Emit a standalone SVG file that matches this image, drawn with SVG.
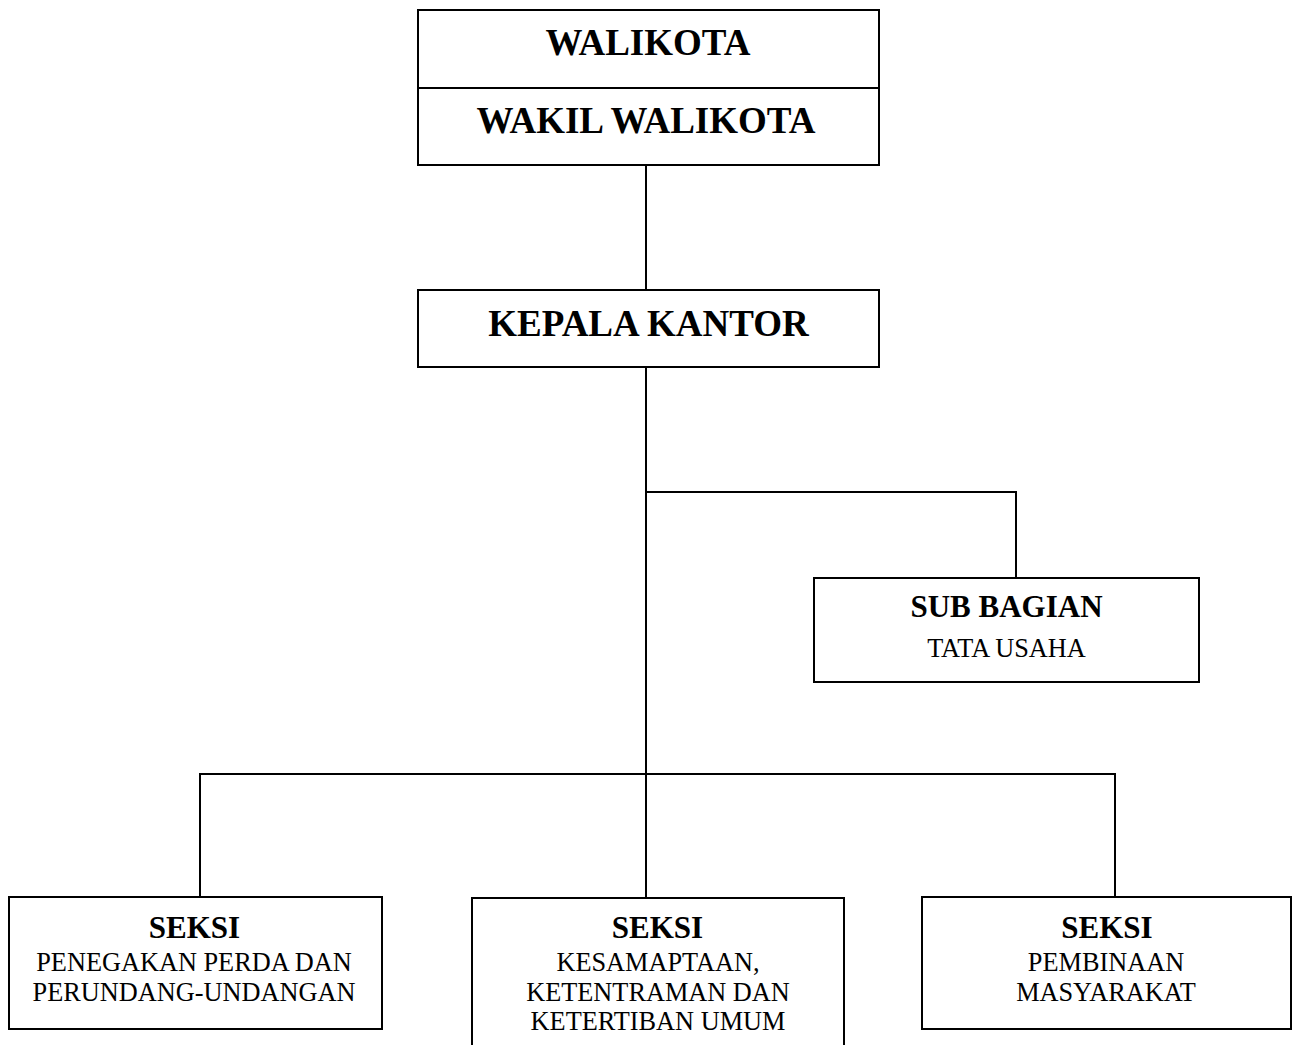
<svg xmlns="http://www.w3.org/2000/svg" width="1293" height="1045" viewBox="0 0 1293 1045">
<style>
.box{fill:#fff;stroke:#000;stroke-width:2}
.ln{fill:none;stroke:#000;stroke-width:2}
text{font-family:"Liberation Serif","Times New Roman",serif;fill:#000;text-anchor:middle}
.b37{font-size:37px;font-weight:bold}
.b31{font-size:31px;font-weight:bold}
.r26{font-size:26.3px}
</style>
<rect width="1293" height="1045" fill="#fff"/>
<g id="connectors">
<line class="ln" x1="646" y1="165" x2="646" y2="290"/>
<line class="ln" x1="646" y1="367" x2="646" y2="898"/>
<polyline class="ln" points="646,492 1016,492 1016,578"/>
<polyline class="ln" points="200,897 200,774 1115,774 1115,897"/>
</g>
<g id="walikota">
<rect class="box" x="418" y="10" width="461" height="155"/>
<line class="ln" x1="418" y1="88" x2="879" y2="88"/>
<text class="b37" x="648" y="55">WALIKOTA</text>
<text class="b37" x="646" y="133">WAKIL WALIKOTA</text>
</g>
<g id="kepala">
<rect class="box" x="418" y="290" width="461" height="77"/>
<text class="b37" x="648.5" y="336">KEPALA KANTOR</text>
</g>
<g id="subbagian">
<rect class="box" x="814" y="578" width="385" height="104"/>
<text class="b31" x="1006.5" y="617">SUB BAGIAN</text>
<text class="r26" x="1006.5" y="657">TATA USAHA</text>
</g>
<g id="seksi1">
<rect class="box" x="9" y="897" width="373" height="132"/>
<text class="b31" x="194.5" y="938">SEKSI</text>
<text class="r26" x="194" y="971">PENEGAKAN PERDA DAN</text>
<text class="r26" x="194" y="1001">PERUNDANG-UNDANGAN</text>
</g>
<g id="seksi2">
<rect class="box" x="472" y="898" width="372" height="160"/>
<text class="b31" x="657.5" y="938">SEKSI</text>
<text class="r26" x="658" y="971">KESAMAPTAAN,</text>
<text class="r26" x="658" y="1001">KETENTRAMAN DAN</text>
<text class="r26" x="658" y="1030">KETERTIBAN UMUM</text>
</g>
<g id="seksi3">
<rect class="box" x="922" y="897" width="369" height="132"/>
<text class="b31" x="1107" y="938">SEKSI</text>
<text class="r26" x="1106" y="971">PEMBINAAN</text>
<text class="r26" x="1106" y="1001">MASYARAKAT</text>
</g>
</svg>
